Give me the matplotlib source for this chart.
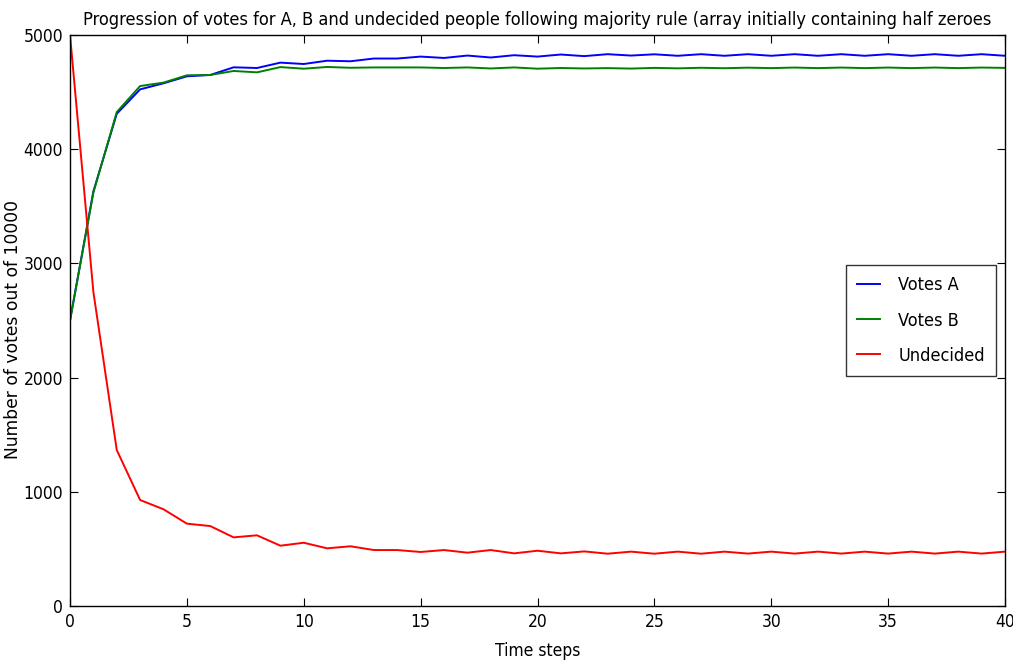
import matplotlib
matplotlib.use("Agg")
import matplotlib.pyplot as plt
from matplotlib import font_manager as fm

# ---- data ----
time_steps = list(range(0, 41))
votes_a = [2500, 3630, 4310, 4524, 4577, 4638, 4650, 4717, 4711, 4758,
           4746, 4775, 4770, 4794, 4794, 4811, 4799, 4820, 4803, 4823,
           4811, 4829, 4815, 4832, 4820, 4831, 4818, 4832, 4818, 4832,
           4818, 4832, 4818, 4832, 4818, 4832, 4818, 4832, 4818, 4832,
           4818]
votes_b = [2500, 3620, 4325, 4553, 4583, 4647, 4650, 4685, 4673, 4719,
           4705, 4720, 4713, 4716, 4716, 4716, 4711, 4716, 4707, 4716,
           4705, 4711, 4707, 4710, 4706, 4712, 4708, 4713, 4709, 4714,
           4710, 4715, 4710, 4715, 4710, 4715, 4710, 4715, 4710, 4715,
           4712]
undecided = [5000, 2750, 1366, 928, 847, 721, 700, 601, 619, 528,
             554, 505, 523, 490, 490, 473, 490, 467, 490, 461,
             484, 461, 478, 458, 476, 458, 476, 458, 476, 459,
             476, 459, 476, 459, 476, 459, 476, 459, 476, 459,
             476]

title_text = ("Progression of votes for A, B and undecided people following "
              "majority rule (array initially containing half zeroes")
xlabel_text = "Time steps"
ylabel_text = "Number of votes out of 10000"
series_labels = ["Votes A", "Votes B", "Undecided"]

# ---- font choice: narrow font for horizontally squeezed text ----
names = {f.name for f in fm.fontManager.ttflist}
narrow_family = "Liberation Sans Narrow" if "Liberation Sans Narrow" in names else "DejaVu Sans"
narrow_stretch = "normal" if narrow_family != "DejaVu Sans" else "condensed"

plt.rcParams["font.family"] = [narrow_family, "DejaVu Sans"]

fig = plt.figure(figsize=(10.13, 6.64), dpi=100)
ax = fig.add_axes([70 / 1013, 1 - 606 / 664, 935 / 1013, 571 / 664])

ax.plot(time_steps, votes_a, color=(0, 0, 1), lw=1.4, label=series_labels[0])
ax.plot(time_steps, votes_b, color=(0, 0.5, 0), lw=1.4, label=series_labels[1])
ax.plot(time_steps, undecided, color=(1, 0, 0), lw=1.4, label=series_labels[2])

ax.set_xlim(0, 40)
ax.set_ylim(0, 5000)
ax.set_xticks(range(0, 41, 5))
ax.set_yticks(range(0, 5001, 1000))

ax.tick_params(direction="in", top=True, right=True, length=6, width=0.8,
               labelsize=12.5, pad=5, colors="black")
for lab in ax.get_xticklabels() + ax.get_yticklabels():
    lab.set_fontstretch(narrow_stretch)
for sp in ax.spines.values():
    sp.set_linewidth(1.0)
    sp.set_color("black")

ax.set_title(title_text, fontsize=13.1, fontstretch=narrow_stretch, pad=7)
ax.set_xlabel(xlabel_text, fontsize=12.5, fontstretch=narrow_stretch, labelpad=8)
ax.set_ylabel(ylabel_text, fontsize=12.3, family="DejaVu Sans")
ax.yaxis.set_label_coords(-0.051, 0.485)

leg = ax.legend(loc="center right", frameon=True, fancybox=False,
                borderaxespad=0.5, handlelength=1.27, handletextpad=1.0,
                labelspacing=0.95, borderpad=0.62,
                prop={"size": 13, "family": [narrow_family, "DejaVu Sans"],
                      "stretch": narrow_stretch})
leg.get_frame().set_edgecolor("black")
leg.get_frame().set_linewidth(1.0)

fig.savefig("out.png", dpi=100, facecolor="white")
